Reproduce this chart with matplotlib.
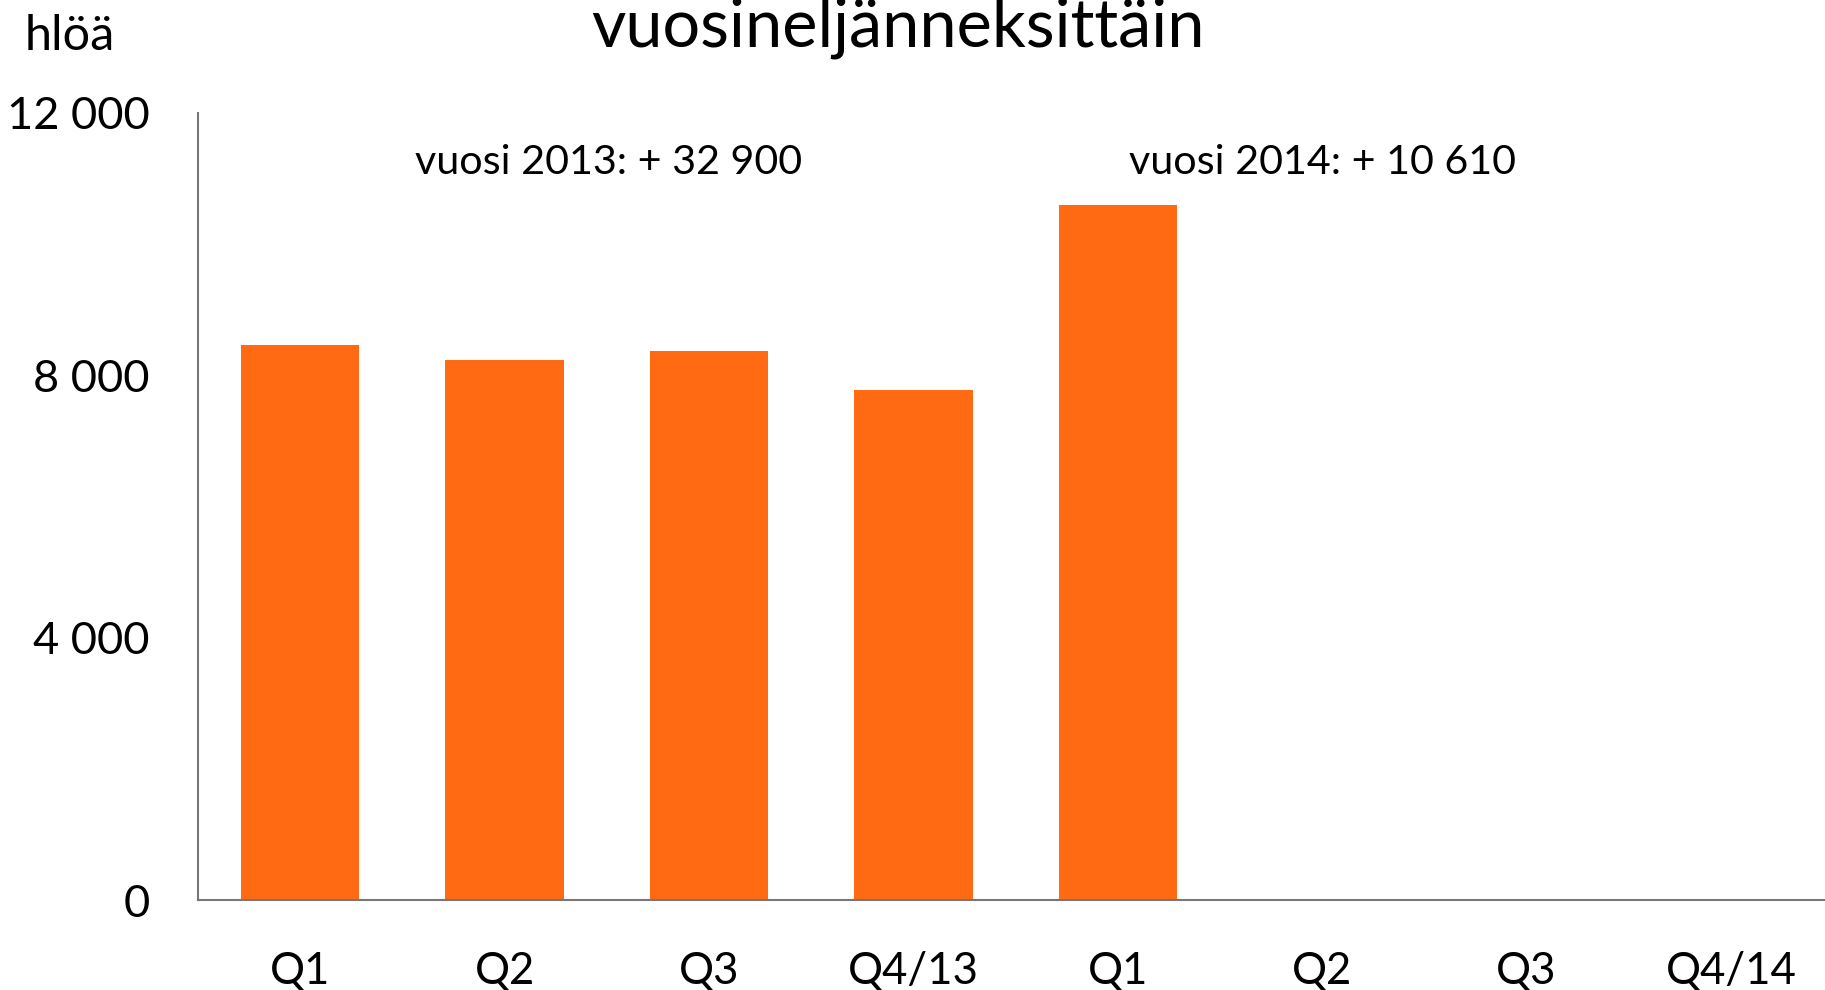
import matplotlib.pyplot as plt

plt.rcParams['font.family'] = ['Lato', 'DejaVu Sans']

# Quarterly values (persons)
quarters = ['Q1', 'Q2', 'Q3', 'Q4/13', 'Q1', 'Q2', 'Q3', 'Q4/14']
values = [8460, 8230, 8370, 7780, 10600, 0, 0, 0]
yticks = [0, 4000, 8000, 12000]
ytick_labels = ['0', '4 000', '8 000', '12 000']

fig = plt.figure(figsize=(18.25, 9.9), dpi=100)
ax = fig.add_axes([0.1085, 0.0909, 0.896, 0.795])

x = list(range(len(quarters)))
ax.bar(x, values, width=0.58, color='#FF6A13')

ax.set_xlim(-0.5, 7.5)
ax.set_ylim(0, 12000)
ax.set_xticks(x)
ax.set_xticklabels(quarters, fontsize=31.5)
ax.set_yticks(yticks)
ax.set_yticklabels(ytick_labels, fontsize=32.5)
ax.tick_params(length=0, pad=36)
ax.tick_params(axis='y', pad=35)

for side in ['top', 'right']:
    ax.spines[side].set_visible(False)
for side in ['left', 'bottom']:
    ax.spines[side].set_color('#777777')
    ax.spines[side].set_linewidth(1.5)
ax.spines['bottom'].set_clip_on(False)

ax.text(1.51, 11250, 'vuosi 2013: + 32 900', fontsize=29.7, ha='center', va='center')
ax.text(5.0, 11250, 'vuosi 2014: + 10 610', fontsize=29.7, ha='center', va='center')

fig.text(0.492, 0.953, 'vuosineljänneksittäin', fontsize=48, ha='center', va='baseline')
fig.text(0.038, 0.964, 'hlöä', fontsize=35, ha='center', va='center')

fig.savefig('out.png', dpi=100)
